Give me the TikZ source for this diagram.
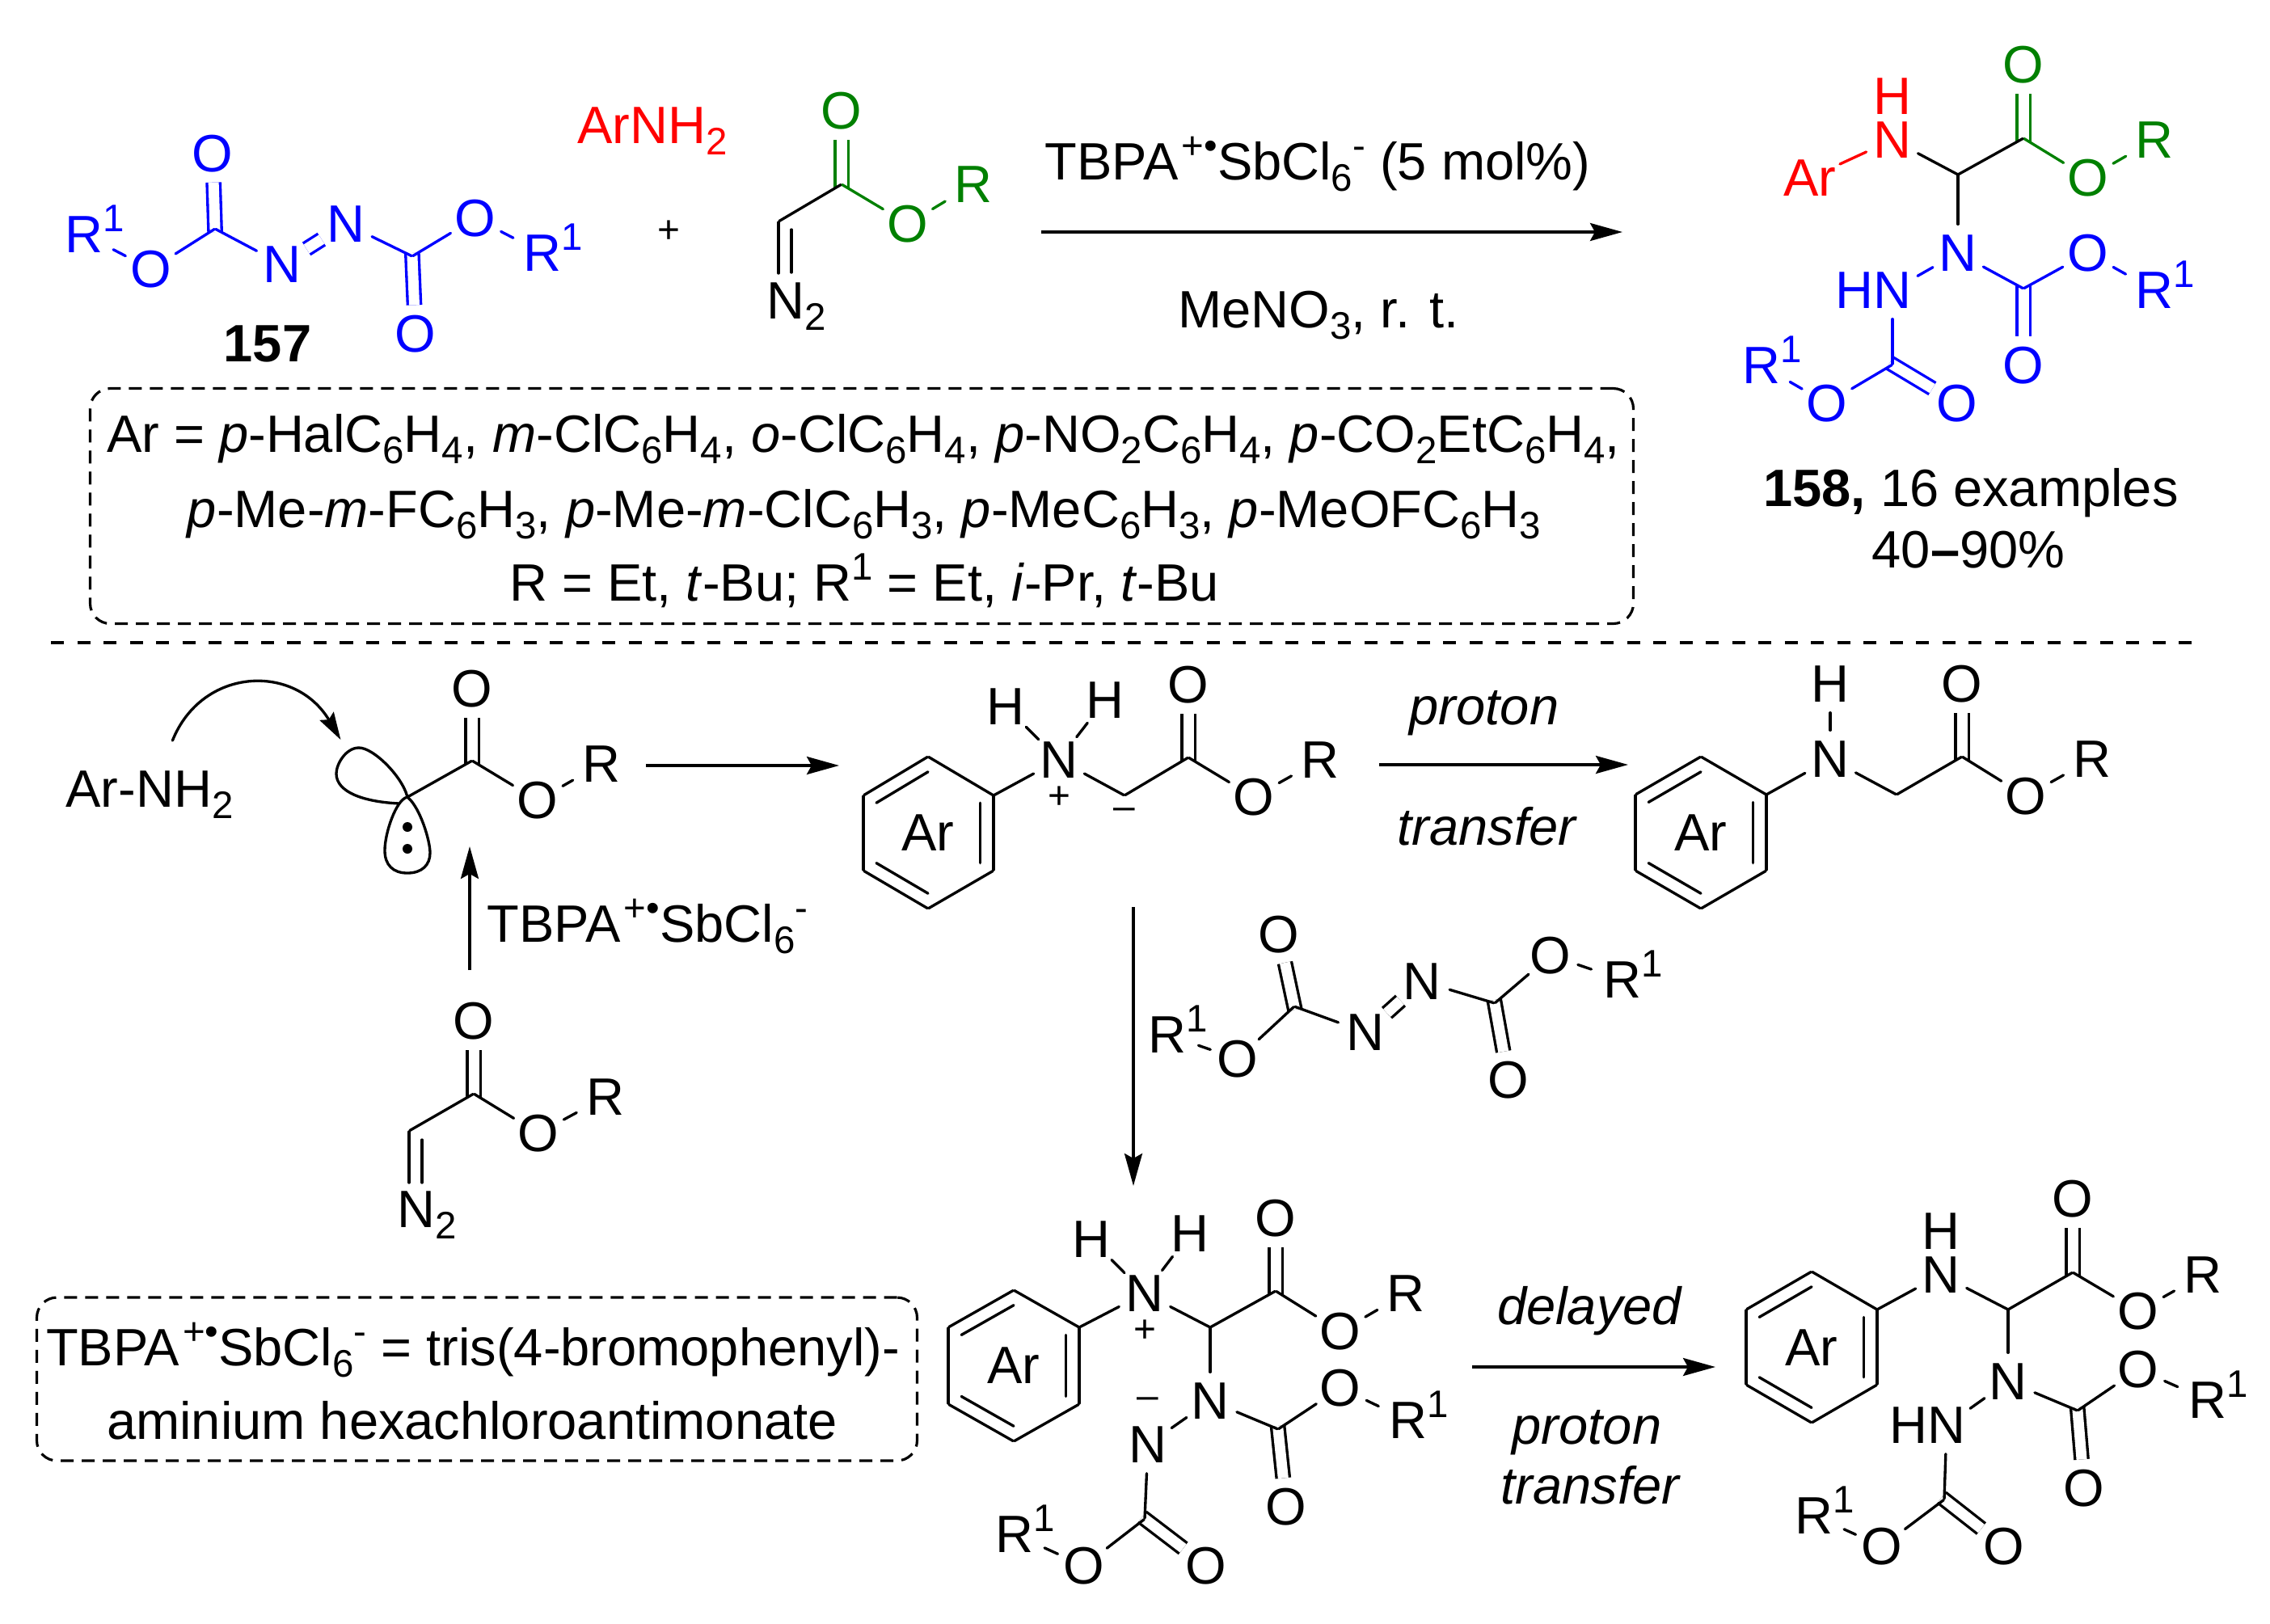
\documentclass[tikz,border=0pt]{standalone}
\usepackage{fontspec}
\setmainfont{Liberation Sans}
\usepackage{xcolor}
\usetikzlibrary{positioning}
\usetikzlibrary{arrows.meta}
\usetikzlibrary{calc}
\definecolor{estergreen}{RGB}{0,128,0}
\newcommand{\tsub}[1]{\raisebox{-.14cm}{\fontsize{13.5}{13.5}\selectfont #1}}
\newcommand{\tsup}[1]{\raisebox{.26cm}{\fontsize{13.5}{13.5}\selectfont #1}}
\newcommand{\Rone}{R\smash{\rlap{\tsup{1}}}}
\newcommand{\Ntwo}{N\smash{\rlap{\tsub{2}}}}
\begin{document}
\begin{tikzpicture}[on grid,font=\fontsize{18.5}{22}\selectfont,>={Stealth[length=.4cm,width=.22cm,inset=.06cm]},
                    atom/.style={circle,inner sep=0pt,minimum size=.70cm},
                    rgroup/.style={atom,minimum size=.80cm},
                    vertex/.style={circle,inner sep=0pt,outer sep=0pt,minimum size=.02cm},
                    charge/.style={circle,inner sep=0pt,font=\fontsize{13.6}{14}\selectfont},
                    txt/.style={anchor=base,inner sep=0pt},
                    bond/.style={line width=.95pt,line cap=round},
                    azo/.style={double,double distance=.13cm,line cap=butt},
                    dbl/.style={azo,shorten <=-.05cm},
                    rxn/.style={->,line width=1pt},
                    dash box/.style={draw,line width=.9pt,rounded corners=.25cm,dash pattern=on .16cm off .10cm,inner sep=0pt},
                    lone pair/.style={circle,fill,inner sep=0pt,minimum size=.12cm}]
      \useasboundingbox (0,0) rectangle (28.08,-20.08);

      \node[rgroup,blue] (a1) at (1.04,-2.90) {\Rone};
      \node[atom,blue] (a2) [below right=.43cm and .83cm of a1] {O};
      \node[vertex] (a3) [above right=.50cm and .79cm of a2] {};
      \node[atom,blue] (a4) [above left=.93cm and .03cm of a3] {O};
      \node[atom,blue] (a5) [below right=.44cm and .83cm of a3] {N};
      \node[atom,blue] (a6) [above right=.50cm and .79cm of a5] {N};
      \node[vertex] (a7) [below right=.40cm and .82cm of a6] {};
      \node[atom,blue] (a8) [below right=.96cm and .04cm of a7] {O};
      \node[atom,blue] (a9) [above right=.47cm and .78cm of a7] {O};
      \node[rgroup,blue] (a10) [below right=.43cm and .83cm of a9] {\Rone};
      \path[bond,blue]
	(a3) edge [dbl] (a4)
	(a7) edge [dbl] (a8)
	(a5) edge [azo] (a6);
      \path[bond,blue]
	(a1) edge (a2)
	(a2) edge (a3)
	(a3) edge (a5)
	(a6) edge (a7)
	(a7) edge (a9)
	(a9) edge (a10);
      \node[txt,font=\fontsize{18.5}{22}\selectfont\bfseries] (a11) at (3.31,-4.47) {157};
      \node[txt,red] (a12) at (8.07,-1.77) {ArNH\tsub{2}};
      \node[charge] (a13) at (8.27,-2.87) {+};

      \node[vertex] (b1) at (9.63,-2.74) {};
      \node[atom] (b2) [below right=.98cm and .09cm of b1] {\Ntwo};
      \node[vertex] (b3) [below=.65cm of b1] {};
      \node[vertex] (b4) [below right=.09cm and .16cm of b1] {};
      \node[vertex] (b5) [below=.55cm of b4] {};
      \node[vertex] (b6) [above right=.46cm and .78cm of b1] {};
      \node[atom,estergreen] (b7) [above=.91cm of b6] {O};
      \node[atom,estergreen] (b8) [below right=.49cm and .82cm of b6] {O};
      \node[rgroup,estergreen] (b9) [above right=.49cm and .81cm of b8] {R};
      \path[bond,estergreen]
	(b6) edge [dbl] (b7);
      \path[bond]
	(b1) edge (b3)
	(b4) edge (b5)
	(b1) edge (b6);
      \path[bond,estergreen]
	(b6) edge (b8)
	(b8) edge (b9);

      \node[vertex] (c1) at (12.87,-2.87) {};
      \node[vertex] (c2) at (20.08,-2.87) {};
      \path[rxn] (c1) edge (c2);
      \node[txt] (c3) at (16.30,-2.22) {TBPA\kern.04cm\tsup{+•}SbCl\tsub{6}\tsup{-} (5 mol\%)};
      \node[txt] (c4) at (16.31,-4.05) {MeNO\tsub{3}, r. t.};

      \node[rgroup,red] (p1) at (22.39,-2.20) {\makebox[0pt]{Ar}};
      \node[atom,red] (p2) [above right=.47cm and 1.02cm of p1] {N};
      \node[atom,red] (p3) [above=.54cm of p2] {H};
      \node[vertex] (p4) [below right=.43cm and .81cm of p2] {};
      \node[vertex] (p5) [above right=.45cm and .81cm of p4] {};
      \node[atom,estergreen] (p6) [above=.91cm of p5] {O};
      \node[atom,estergreen] (p7) [below right=.49cm and .80cm of p5] {O};
      \node[rgroup,estergreen] (p8) [above right=.47cm and .82cm of p7] {R};
      \node[atom,blue] (p9) [below=.97cm of p4] {N};
      \node[vertex] (p10) [below right=.44cm and .81cm of p9] {};
      \node[atom,blue] (p11) [above right=.44cm and .80cm of p10] {O};
      \node[rgroup,blue] (p12) [below right=.46cm and .82cm of p11] {\Rone};
      \node[atom,blue] (p13) [below=.95cm of p10] {O};
      \node[atom,blue] (p14) [below left=.46cm and .81cm of p9] {\llap{H}N};
      \node[vertex] (p15) [below=.92cm of p14] {};
      \node[atom,blue] (p16) [below right=.48cm and .80cm of p15] {O};
      \node[atom,blue] (p17) [below left=.48cm and .81cm of p15] {O};
      \node[rgroup,blue] (p18) [above left=.47cm and .81cm of p17] {\Rone};
      \path[bond,red] (p1) edge (p2);
      \path[bond,estergreen]
	(p5) edge [dbl] (p6)
	(p5) edge (p7)
	(p7) edge (p8);
      \path[bond]
	(p2) edge (p4)
	(p4) edge (p5)
	(p4) edge (p9);
      \path[bond,blue]
	(p10) edge [dbl] (p13)
	(p15) edge [dbl] (p16);
      \path[bond,blue]
	(p9) edge (p10)
	(p10) edge (p11)
	(p11) edge (p12)
	(p9) edge (p14)
	(p14) edge (p15)
	(p15) edge (p17)
	(p17) edge (p18);
      \node[txt] (p19) at (24.38,-6.26) {\textbf{158,} 16 examples};
      \node[txt] (p20) at (24.35,-7.02) {40\textbf{–}90\%};

      \node[dash box,minimum width=19.09cm,minimum height=2.91cm] (t1) at (10.66,-6.26) {};
      \node[txt] (t2) at (10.68,-5.59) {Ar = \textit{p}-HalC\tsub{6}H\tsub{4}, \textit{m}-ClC\tsub{6}H\tsub{4}, \textit{o}-ClC\tsub{6}H\tsub{4}, \textit{p}-NO\tsub{2}C\tsub{6}H\tsub{4}, \textit{p}-CO\tsub{2}EtC\tsub{6}H\tsub{4},};
      \node[txt] (t3) at (10.69,-6.52) {\textit{p}-Me-\textit{m}-FC\tsub{6}H\tsub{3}, \textit{p}-Me-\textit{m}-ClC\tsub{6}H\tsub{3}, \textit{p}-MeC\tsub{6}H\tsub{3}, \textit{p}-MeOFC\tsub{6}H\tsub{3}};
      \node[txt] (t4) at (10.69,-7.43) {R = Et, \textit{t}-Bu; R\tsup{1} = Et, \textit{i}-Pr, \textit{t}-Bu};

      \node[vertex] (s1) at (.62,-7.95) {};
      \node[vertex] (s2) at (27.22,-7.95) {};
      \path[line width=1.1pt,dash pattern=on .16cm off .165cm] (s1) edge (s2);

      \node[txt] (m1) at (1.85,-9.98) {Ar-NH\tsub{2}};
      \node[vertex] (m2) at (5.04,-9.86) {};
      \node[vertex] (m3) [above right=.45cm and .80cm of m2] {};
      \node[atom] (m4) [above=.89cm of m3] {O};
      \node[atom] (m5) [below right=.49cm and .81cm of m3] {O};
      \node[rgroup] (m6) [above right=.45cm and .79cm of m5] {R};
      \node[lone pair] (m7) [below=.37cm of m2] {};
      \node[lone pair] (m8) [below=.27cm of m7] {};
      \path[bond] (m3) edge [dbl] (m4);
      \path[bond]
	(m2) edge (m3)
	(m3) edge (m5)
	(m5) edge (m6);
      \draw[bond] (m2) .. controls (4.97,-9.60) and (4.62,-9.25) .. (4.44,-9.25) .. controls (4.28,-9.25) and (4.16,-9.45) .. (4.16,-9.57) .. controls (4.16,-9.80) and (4.50,-9.92) .. (4.94,-9.94);
      \draw[bond] (m2) .. controls (5.20,-10.00) and (5.32,-10.40) .. (5.32,-10.55) .. controls (5.32,-10.70) and (5.22,-10.80) .. (5.04,-10.80) .. controls (4.86,-10.80) and (4.76,-10.70) .. (4.76,-10.52) .. controls (4.76,-10.30) and (4.90,-9.90) .. (m2);
      \node[vertex] (m9) at (2.13,-9.17) {};
      \node[vertex] (m10) at (4.22,-9.16) {};
      \draw[bond,->,>={Stealth[length=.34cm,width=.2cm,inset=.05cm]}] (m9) .. controls (2.50,-8.25) and (3.65,-8.20) .. (m10);

      \node[vertex] (n1) at (7.98,-9.47) {};
      \node[vertex] (n2) at (10.39,-9.47) {};
      \path[rxn] (n1) edge (n2);
      \node[vertex] (n3) at (5.81,-12.01) {};
      \node[vertex] (n4) at (5.81,-10.46) {};
      \path[rxn] (n3) edge (n4);
      \node[txt] (n5) at (8.01,-11.65) {TBPA\kern.04cm\tsup{+•}SbCl\tsub{6}\tsup{-}};

      \node[atom] (d0) at (11.48,-10.30) {\makebox[0pt]{Ar}};
      \node[vertex] (d1) [above=.94cm of d0] {};
      \node[vertex] (d2) [above right=.46cm and .81cm of d0] {};
      \node[vertex] (d3) [below right=.47cm and .81cm of d0] {};
      \node[vertex] (d4) [below=.94cm of d0] {};
      \node[vertex] (d5) [below left=.47cm and .80cm of d0] {};
      \node[vertex] (d6) [above left=.46cm and .80cm of d0] {};
      \node[atom] (d7) [above right=.44cm and .81cm of d2] {N};
      \node[atom] (d8) [above left=.66cm and .66cm of d7] {H};
      \node[atom] (d9) [above right=.74cm and .57cm of d7] {H};
      \node[charge] (d10) [below=.47cm of d7] {+};
      \node[vertex] (d11) [below right=.44cm and .81cm of d7] {};
      \node[vertex] (d12) [above right=.47cm and .79cm of d11] {};
      \node[atom] (d13) [above=.90cm of d12] {O};
      \node[atom] (d14) [below right=.49cm and .81cm of d12] {O};
      \node[rgroup] (d15) [above right=.46cm and .82cm of d14] {R};
      \node[charge] (d16) [below=.23cm of d11] {–};
      \path[bond] (d12) edge [dbl] (d13);
      \path[bond]
	(d1) edge (d2)
	(d2) edge (d3)
	(d3) edge (d4)
	(d4) edge (d5)
	(d5) edge (d6)
	(d6) edge (d1)
	(d2) edge (d7)
	(d7) edge (d8)
	(d7) edge (d9)
	(d7) edge (d11)
	(d11) edge (d12)
	(d12) edge (d14)
	(d14) edge (d15);
      \draw[bond] ($(d2)!.2!(d0.center)$) -- ($(d3)!.2!(d0.center)$);
      \draw[bond] ($(d4)!.2!(d0.center)$) -- ($(d5)!.2!(d0.center)$);
      \draw[bond] ($(d6)!.2!(d0.center)$) -- ($(d1)!.2!(d0.center)$);

      \node[vertex] (e1) at (17.05,-9.46) {};
      \node[vertex] (e2) at (20.15,-9.46) {};
      \path[rxn] (e1) edge (e2);
      \node[txt,font=\fontsize{18.5}{22}\selectfont\itshape] (e3) at (18.36,-8.96) {proton};
      \node[txt,font=\fontsize{18.5}{22}\selectfont\itshape] (e4) at (18.39,-10.45) {transfer};

      \node[atom] (g0) at (21.04,-10.30) {\makebox[0pt]{Ar}};
      \node[vertex] (g1) [above=.94cm of g0] {};
      \node[vertex] (g2) [above right=.47cm and .81cm of g0] {};
      \node[vertex] (g3) [below right=.47cm and .81cm of g0] {};
      \node[vertex] (g4) [below=.94cm of g0] {};
      \node[vertex] (g5) [below left=.47cm and .81cm of g0] {};
      \node[vertex] (g6) [above left=.47cm and .81cm of g0] {};
      \node[atom] (g7) [above right=.44cm and .79cm of g2] {N};
      \node[atom] (g8) [above=.93cm of g7] {H};
      \node[vertex] (g9) [below right=.44cm and .82cm of g7] {};
      \node[vertex] (g10) [above right=.47cm and .81cm of g9] {};
      \node[atom] (g11) [above=.90cm of g10] {O};
      \node[atom] (g12) [below right=.49cm and .79cm of g10] {O};
      \node[rgroup] (g13) [above right=.46cm and .82cm of g12] {R};
      \path[bond] (g10) edge [dbl] (g11);
      \path[bond]
	(g1) edge (g2)
	(g2) edge (g3)
	(g3) edge (g4)
	(g4) edge (g5)
	(g5) edge (g6)
	(g6) edge (g1)
	(g2) edge (g7)
	(g7) edge (g8)
	(g7) edge (g9)
	(g9) edge (g10)
	(g10) edge (g12)
	(g12) edge (g13);
      \draw[bond] ($(g2)!.2!(g0.center)$) -- ($(g3)!.2!(g0.center)$);
      \draw[bond] ($(g4)!.2!(g0.center)$) -- ($(g5)!.2!(g0.center)$);
      \draw[bond] ($(g6)!.2!(g0.center)$) -- ($(g1)!.2!(g0.center)$);

      \node[vertex] (i1) at (14.02,-11.21) {};
      \node[vertex] (i2) at (14.02,-14.68) {};
      \path[rxn] (i1) edge (i2);

      \node[rgroup] (f1) at (14.44,-12.80) {\Rone};
      \node[atom] (f2) [below right=.30cm and .87cm of f1] {O};
      \node[vertex] (f3) [above right=.65cm and .70cm of f2] {};
      \node[atom] (f4) [above left=.89cm and .19cm of f3] {O};
      \node[atom] (f5) [below right=.32cm and .88cm of f3] {N};
      \node[atom] (f6) [above right=.63cm and .70cm of f5] {N};
      \node[vertex] (f7) [below right=.27cm and .90cm of f6] {};
      \node[atom] (f8) [below right=.95cm and .17cm of f7] {O};
      \node[atom] (f9) [above right=.59cm and .69cm of f7] {O};
      \node[rgroup] (f10) [below right=.30cm and .89cm of f9] {\Rone};
      \path[bond]
	(f3) edge [dbl] (f4)
	(f7) edge [dbl] (f8)
	(f5) edge [azo] (f6);
      \path[bond]
	(f1) edge (f2)
	(f2) edge (f3)
	(f3) edge (f5)
	(f6) edge (f7)
	(f7) edge (f9)
	(f9) edge (f10);

      \node[vertex] (j1) at (5.06,-13.99) {};
      \node[atom] (j2) [below right=.97cm and .09cm of j1] {\Ntwo};
      \node[vertex] (j3) [below=.65cm of j1] {};
      \node[vertex] (j4) [below right=.10cm and .16cm of j1] {};
      \node[vertex] (j5) [below=.55cm of j4] {};
      \node[vertex] (j6) [above right=.46cm and .80cm of j1] {};
      \node[atom] (j7) [above=.90cm of j6] {O};
      \node[atom] (j8) [below right=.49cm and .80cm of j6] {O};
      \node[rgroup] (j9) [above right=.45cm and .83cm of j8] {R};
      \path[bond] (j6) edge [dbl] (j7);
      \path[bond]
	(j1) edge (j3)
	(j4) edge (j5)
	(j1) edge (j6)
	(j6) edge (j8)
	(j8) edge (j9);

      \node[dash box,minimum width=10.89cm,minimum height=2.02cm] (l1) at (5.90,-17.06) {};
      \node[txt] (l2) at (5.85,-16.89) {TBPA\kern.04cm\tsup{+•}SbCl\tsub{6}\tsup{-} = tris(4-bromophenyl)-};
      \node[txt] (l3) at (5.84,-17.80) {aminium hexachloroantimonate};

      \node[atom] (h0) at (12.54,-16.89) {\makebox[0pt]{Ar}};
      \node[vertex] (h1) [above=.93cm of h0] {};
      \node[vertex] (h2) [above right=.47cm and .81cm of h0] {};
      \node[vertex] (h3) [below right=.48cm and .81cm of h0] {};
      \node[vertex] (h4) [below=.94cm of h0] {};
      \node[vertex] (h5) [below left=.48cm and .81cm of h0] {};
      \node[vertex] (h6) [above left=.47cm and .81cm of h0] {};
      \node[atom] (h7) [above right=.42cm and .81cm of h2] {N};
      \node[atom] (h8) [above left=.67cm and .66cm of h7] {H};
      \node[atom] (h9) [above right=.74cm and .56cm of h7] {H};
      \node[charge] (h10) [below=.47cm of h7] {+};
      \node[vertex] (h11) [below right=.42cm and .81cm of h7] {};
      \node[vertex] (h12) [above right=.45cm and .81cm of h11] {};
      \node[atom] (h13) [above=.90cm of h12] {O};
      \node[atom] (h14) [below right=.50cm and .80cm of h12] {O};
      \node[rgroup] (h15) [above right=.47cm and .81cm of h14] {R};
      \node[atom] (h16) [below=.91cm of h11] {N};
      \node[vertex] (h17) [below right=.35cm and .84cm of h16] {};
      \node[atom] (h18) [above right=.51cm and .77cm of h17] {O};
      \node[rgroup] (h19) [below right=.40cm and .84cm of h18] {\Rone};
      \node[atom] (h20) [below right=.96cm and .10cm of h17] {O};
      \node[atom] (h21) [below left=.54cm and .77cm of h16] {N};
      \node[charge] (h22) [above=.51cm of h21] {–};
      \node[vertex] (h23) [below left=.92cm and .04cm of h21] {};
      \node[atom] (h24) [below right=.58cm and .76cm of h23] {O};
      \node[atom] (h25) [below left=.58cm and .75cm of h23] {O};
      \node[rgroup] (h26) [above left=.39cm and .86cm of h25] {\Rone};
      \path[bond]
	(h12) edge [dbl] (h13)
	(h17) edge [dbl] (h20)
	(h23) edge [dbl] (h24);
      \path[bond]
	(h1) edge (h2)
	(h2) edge (h3)
	(h3) edge (h4)
	(h4) edge (h5)
	(h5) edge (h6)
	(h6) edge (h1)
	(h2) edge (h7)
	(h7) edge (h8)
	(h7) edge (h9)
	(h7) edge (h11)
	(h11) edge (h12)
	(h12) edge (h14)
	(h14) edge (h15)
	(h11) edge (h16)
	(h16) edge (h17)
	(h17) edge (h18)
	(h18) edge (h19)
	(h16) edge (h21)
	(h21) edge (h23)
	(h23) edge (h25)
	(h25) edge (h26);
      \draw[bond] ($(h2)!.2!(h0.center)$) -- ($(h3)!.2!(h0.center)$);
      \draw[bond] ($(h4)!.2!(h0.center)$) -- ($(h5)!.2!(h0.center)$);
      \draw[bond] ($(h6)!.2!(h0.center)$) -- ($(h1)!.2!(h0.center)$);

      \node[vertex] (q1) at (18.20,-16.91) {};
      \node[vertex] (q2) at (21.23,-16.91) {};
      \path[rxn] (q1) edge (q2);
      \node[txt,font=\fontsize{18.5}{22}\selectfont\itshape] (q3) at (19.66,-16.38) {delayed};
      \node[txt,font=\fontsize{18.5}{22}\selectfont\itshape] (q4) at (19.63,-17.86) {proton};
      \node[txt,font=\fontsize{18.5}{22}\selectfont\itshape] (q5) at (19.67,-18.60) {transfer};

      \node[atom] (k0) at (22.41,-16.67) {\makebox[0pt]{Ar}};
      \node[vertex] (k1) [above=.94cm of k0] {};
      \node[vertex] (k2) [above right=.47cm and .81cm of k0] {};
      \node[vertex] (k3) [below right=.46cm and .81cm of k0] {};
      \node[vertex] (k4) [below=.93cm of k0] {};
      \node[vertex] (k5) [below left=.46cm and .81cm of k0] {};
      \node[vertex] (k6) [above left=.47cm and .81cm of k0] {};
      \node[atom] (k7) [above right=.43cm and .79cm of k2] {N};
      \node[atom] (k8) [above=.54cm of k7] {H};
      \node[vertex] (k9) [below right=.43cm and .83cm of k7] {};
      \node[vertex] (k10) [above right=.46cm and .80cm of k9] {};
      \node[atom] (k11) [above=.91cm of k10] {O};
      \node[atom] (k12) [below right=.48cm and .81cm of k10] {O};
      \node[rgroup] (k13) [above right=.45cm and .80cm of k12] {R};
      \node[atom] (k14) [below=.89cm of k9] {N};
      \node[vertex] (k15) [below right=.36cm and .86cm of k14] {};
      \node[atom] (k16) [above right=.51cm and .75cm of k15] {O};
      \node[rgroup] (k17) [below right=.38cm and .86cm of k16] {\Rone};
      \node[atom] (k18) [below right=.96cm and .08cm of k15] {O};
      \node[atom] (k19) [below left=.54cm and .76cm of k14] {\llap{H}N};
      \node[vertex] (k20) [below left=.92cm and .03cm of k19] {};
      \node[atom] (k21) [below right=.58cm and .74cm of k20] {O};
      \node[atom] (k22) [below left=.58cm and .77cm of k20] {O};
      \node[rgroup] (k23) [above left=.38cm and .84cm of k22] {\Rone};
      \path[bond]
	(k10) edge [dbl] (k11)
	(k15) edge [dbl] (k18)
	(k20) edge [dbl] (k21);
      \path[bond]
	(k1) edge (k2)
	(k2) edge (k3)
	(k3) edge (k4)
	(k4) edge (k5)
	(k5) edge (k6)
	(k6) edge (k1)
	(k2) edge (k7)
	(k7) edge (k9)
	(k9) edge (k10)
	(k10) edge (k12)
	(k12) edge (k13)
	(k9) edge (k14)
	(k14) edge (k15)
	(k15) edge (k16)
	(k16) edge (k17)
	(k14) edge (k19)
	(k19) edge (k20)
	(k20) edge (k22)
	(k22) edge (k23);
      \draw[bond] ($(k2)!.2!(k0.center)$) -- ($(k3)!.2!(k0.center)$);
      \draw[bond] ($(k4)!.2!(k0.center)$) -- ($(k5)!.2!(k0.center)$);
      \draw[bond] ($(k6)!.2!(k0.center)$) -- ($(k1)!.2!(k0.center)$);
\end{tikzpicture}
\end{document}
